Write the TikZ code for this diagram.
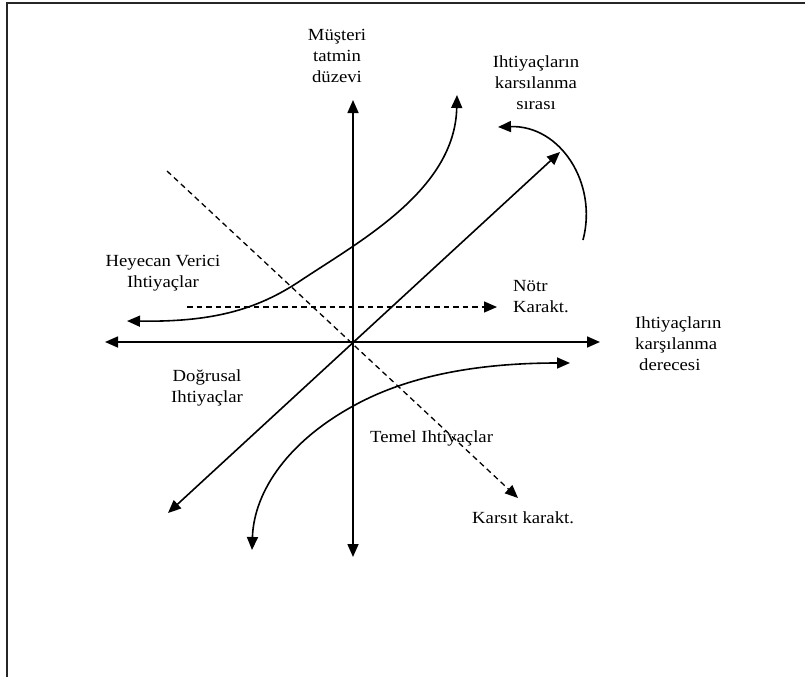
\documentclass[tikz,border=0pt]{standalone}
\usepackage{fontspec}
\setmainfont{Liberation Serif}[FakeStretch=1.1]
\usetikzlibrary{arrows.meta}
\begin{document}
\begin{tikzpicture}[x=1pt,y=-1pt,
  lbl/.style={font=\fontsize{17}{21}\selectfont, inner sep=0pt, align=center},
  lbll/.style={font=\fontsize{17}{21}\selectfont, inner sep=0pt, align=left, anchor=west},
  tip/.tip={Triangle[length=13pt,width=11pt]},
  solidline/.style={line width=1.6pt},
  both/.style={solidline, tip-tip},
  dsh/.style={line width=1.3pt, dash pattern=on 5.5pt off 4pt, -tip},
  frameline/.style={line width=1.3pt, black!85}]
\useasboundingbox (0,0) rectangle (805,677);
% frame
\coordinate (fa) at (7,677);
\coordinate (fb) at (7,3);
\coordinate (fc) at (805,3);
\draw[frameline] (fa) -- (fb) -- (fc);

% coordinates
\coordinate (vtop) at (353,100);
\coordinate (vbot) at (353,557);
\coordinate (hleft) at (105,342);
\coordinate (hright) at (600,342);
\coordinate (dlow) at (168,513);
\coordinate (dhigh) at (560,152);
\coordinate (kstart) at (167,171);
\coordinate (kend) at (518,498);
\coordinate (nstart) at (187,307);
\coordinate (nend) at (497,307);
\coordinate (hyL) at (127,321);
\coordinate (hyM) at (300,281);
\coordinate (hyT) at (457,95);
\coordinate (tmB) at (252,550);
\coordinate (tmM) at (355,405);
\coordinate (tmR) at (570,363);
\coordinate (srS) at (583,240);
\coordinate (srE) at (498,127);

% axes
\draw[both] (vbot) -- (vtop);
\draw[both] (hleft) -- (hright);
% linear needs
\draw[both] (dlow) -- (dhigh);
% dashed lines
\draw[dsh] (kstart) -- (kend);
\draw[dsh] (nstart) -- (nend);
% exciting needs curve
\draw[both] (hyL) .. controls (210,322) and (255,311) .. (hyM)
  .. controls (360,241) and (455,190) .. (hyT);
% basic needs curve
\draw[both] (tmB) .. controls (254,490) and (290,440) .. (tmM)
  .. controls (410,375) and (480,363) .. (tmR);
% order curve
\draw[solidline, -tip] (srS) .. controls (598,183) and (560,125) .. (srE);

% labels
\node[lbl] (lmus) at (337,56) {Müşteri\\tatmin\\düzevi};
\node[lbl] (lsira) at (536,83) {Ihtiyaçların\\karsılanma\\sırası};
\node[lbl] (lhey) at (163,273) {Heyecan Verici\\Ihtiyaçlar};
\node[lbll] (lnotr) at (513,297) {Nötr\\Karakt.};
\node[lbll] (lder) at (635,344) {Ihtiyaçların\\karşılanma\\\hspace{4pt}derecesi};
\node[lbl] (ldog) at (207,388) {Doğrusal\\Ihtiyaçlar};
\node[lbll] (ltemel) at (370,438) {Temel Ihtiyaçlar};
\node[lbll] (lkars) at (472,518) {Karsıt karakt.};
\end{tikzpicture}
\end{document}
